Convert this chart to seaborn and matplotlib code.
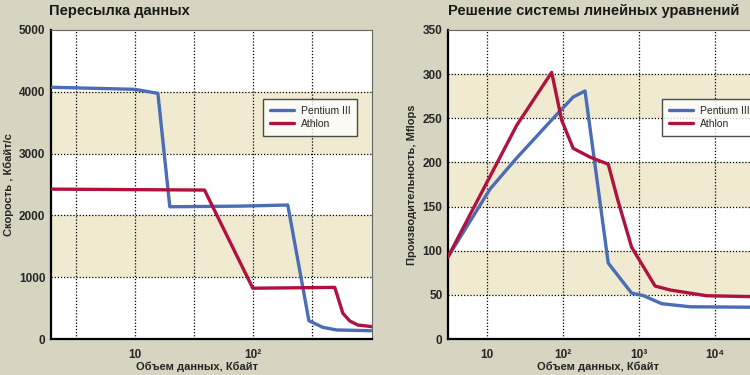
import matplotlib
matplotlib.use('Agg')
import matplotlib.pyplot as plt
import seaborn as sns

# данные
p3_size_transfer = [2, 10, 15.7, 19.8, 78, 198, 299, 392, 515, 1000]
p3_transfer = [4073, 4040, 3975, 2140, 2150, 2168, 296, 189, 146, 134]
ath_size_transfer = [2, 39, 100, 495, 580, 664, 776, 925, 1024]
ath_transfer = [2425, 2410, 822, 835, 416, 291, 226, 210, 199]

p3_size_solve = [3.07, 11, 24.6, 67.4, 136, 195, 394, 800, 1150, 1990, 4700, 28900]
p3_solve = [93, 170, 205, 246, 274, 281, 86, 52, 49, 40, 36.5, 36]
ath_size_solve = [3.07, 24.6, 71, 96, 136, 227, 394, 528, 800, 1630, 2570, 7770, 28900]
ath_solve = [93, 242, 302, 248, 216, 206, 198, 157, 104, 60, 55.5, 49, 48]

series_names = ['Pentium III', 'Athlon']

sns.set_style('white')
plt.rcParams['font.family'] = ['Liberation Sans', 'DejaVu Sans']

BG = '#d7d4c1'
BAND = '#efead0'
BLUE = '#4a6db5'
RED = '#b0123f'

fig = plt.figure(figsize=(7.5, 3.75), dpi=100, facecolor=BG)
ax1 = fig.add_axes([51 / 750, 36 / 375, 321 / 750, 309 / 375])
ax2 = fig.add_axes([448 / 750, 36 / 375, 302 / 750, 309 / 375])


def style_axes(ax, ymax, step, xlim, xticks, xticklabels, grid_x):
    ax.set_facecolor('white')
    # полосы фона
    for lo in range(step, ymax, 2 * step):
        ax.axhspan(lo, lo + step, color=BAND, zorder=0, lw=0)
    ax.set_xscale('log')
    ax.set_xlim(*xlim)
    ax.set_ylim(0, ymax)
    for gx in grid_x:
        ax.axvline(gx, color='black', ls=(0, (1, 1.5)), lw=0.9, zorder=1)
    for gy in range(step, ymax, step):
        ax.axhline(gy, color='black', ls=(0, (1, 1.5)), lw=0.9, zorder=1)
    ax.set_xticks(xticks)
    ax.set_xticklabels(xticklabels)
    ax.xaxis.set_minor_locator(matplotlib.ticker.NullLocator())
    ax.set_yticks(range(0, ymax + 1, step))
    ax.tick_params(length=0, labelsize=8.5, pad=4)
    ax.tick_params(axis='x', pad=7)
    for lab in ax.get_xticklabels() + ax.get_yticklabels():
        lab.set_fontweight('bold')
    for s in ['left', 'bottom']:
        ax.spines[s].set_color('black')
        ax.spines[s].set_linewidth(1.6)
    for s in ['top', 'right']:
        ax.spines[s].set_color('#666666')
        ax.spines[s].set_linewidth(0.8)


style_axes(ax1, 5000, 1000, (1.95, 1024), [10, 100], ['10', '10²'],
           [10 ** 0.5, 10, 10 ** 1.5, 100, 10 ** 2.5])
style_axes(ax2, 350, 50, (3.07, 28900), [10, 100, 1000, 10000],
           ['10', '10²', '10³', '10⁴'], [10, 100, 1000, 10000])
ax2.spines['right'].set_visible(False)

sns.lineplot(x=p3_size_transfer, y=p3_transfer, ax=ax1, color=BLUE, lw=2.4,
             sort=False, label=series_names[0], zorder=3)
sns.lineplot(x=ath_size_transfer, y=ath_transfer, ax=ax1, color=RED, lw=2.4,
             sort=False, label=series_names[1], zorder=3)
sns.lineplot(x=p3_size_solve, y=p3_solve, ax=ax2, color=BLUE, lw=2.4,
             sort=False, label=series_names[0], zorder=3)
sns.lineplot(x=ath_size_solve, y=ath_solve, ax=ax2, color=RED, lw=2.4,
             sort=False, label=series_names[1], zorder=3)

for ax, x0 in [(ax1, (263 - 51) / 321), (ax2, (662 - 448) / 302)]:
    leg = ax.legend(loc='upper left', bbox_to_anchor=(x0, (339 - 99) / 309),
                    borderaxespad=0, fontsize=7.5, frameon=True, fancybox=False,
                    handlelength=2.3, borderpad=0.65, labelspacing=0.3,
                    handletextpad=0.7)
    leg.get_frame().set_edgecolor('#222222')
    leg.get_frame().set_linewidth(1.0)
    leg.set_zorder(5)

ax1.set_ylabel('Скорость , Кбайт/с', fontsize=8, fontweight='bold')
ax2.set_ylabel('Производительность, Mflops', fontsize=8, fontweight='bold')
ax1.yaxis.set_label_coords((9 - 51) / 321, 0.5)
ax2.yaxis.set_label_coords((412 - 448) / 302, 0.5)
ax1.set_xlabel('Объем данных, Кбайт', fontsize=8, fontweight='bold')
ax2.set_xlabel('Объем данных, Кбайт', fontsize=8, fontweight='bold')
ax1.xaxis.set_label_coords((197 - 51) / 321, -(367 - 339) / 309)
ax2.xaxis.set_label_coords((598 - 448) / 302, -(367 - 339) / 309)
for lab in [ax1.xaxis.label, ax2.xaxis.label, ax1.yaxis.label, ax2.yaxis.label]:
    lab.set_va('center')

fig.text(49 / 750, 1 - 11 / 375, 'Пересылка данных', fontsize=10.5,
         fontweight='bold', ha='left', va='center', color='#1a1a1a')
fig.text(448 / 750, 1 - 11 / 375, 'Решение системы линейных уравнений', fontsize=10.5,
         fontweight='bold', ha='left', va='center', color='#1a1a1a')

fig.savefig('out.png', dpi=100, facecolor=BG)
